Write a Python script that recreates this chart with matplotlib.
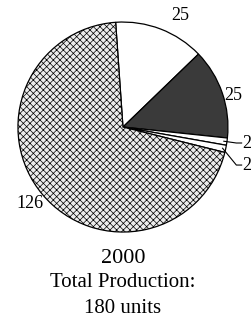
import matplotlib
matplotlib.use("Agg")
import matplotlib.pyplot as plt
import numpy as np

values = [25, 25, 2, 2, 126]
labels = ["25", "25", "2", "2", "126"]
colors = ["#ffffff", "#3a3a3a", "#ffffff", "#ffffff", "#ececec"]
hatches = ["", "", "", "", "xxxxx"]
year = "2000"
subtitle = ["Total Production:", "180 units"]

plt.rcParams["font.family"] = ["Liberation Serif", "DejaVu Serif"]
plt.rcParams["hatch.color"] = "#b4b4b4"
plt.rcParams["hatch.linewidth"] = 0.5

fig = plt.figure(figsize=(2.52, 3.30), dpi=100)
fig.patch.set_facecolor("white")
ax = fig.add_axes([0, 0, 1, 1])

wedges, _ = ax.pie(values, colors=colors, startangle=94, counterclock=False,
                   radius=1.0, wedgeprops=dict(edgecolor="black", linewidth=0.9))
for w, h in zip(wedges, hatches):
    if h:
        w.set_hatch(h)
ax.set_aspect("auto")
ax.set_xlim(-1.171, 1.229)
ax.set_ylim(-1.933, 1.210)
ax.axis("off")

fs = 13
ax.text(0.543, 1.067, labels[0], ha="center", va="center", fontsize=fs)
ax.text(1.048, 0.305, labels[1], ha="center", va="center", fontsize=fs)
ax.text(-0.886, -0.724, labels[4], ha="center", va="center", fontsize=fs)

# leader lines for the small slices
for w, lab, ty in [(wedges[2], labels[2], -0.152), (wedges[3], labels[3], -0.362)]:
    ang = np.deg2rad((w.theta1 + w.theta2) / 2)
    x0, y0 = 0.97 * np.cos(ang), 0.97 * np.sin(ang)
    ax.plot([x0, 1.08, 1.13], [y0, ty, ty], color="black", lw=0.8)
    ax.text(1.14, ty, lab, ha="left", va="center", fontsize=fs)

ax.text(0, -1.248, year, ha="center", va="center", fontsize=16)
ax.text(0, -1.476, subtitle[0], ha="center", va="center", fontsize=15)
ax.text(0, -1.724, subtitle[1], ha="center", va="center", fontsize=15)

fig.savefig("out.png", dpi=100, facecolor="white")
